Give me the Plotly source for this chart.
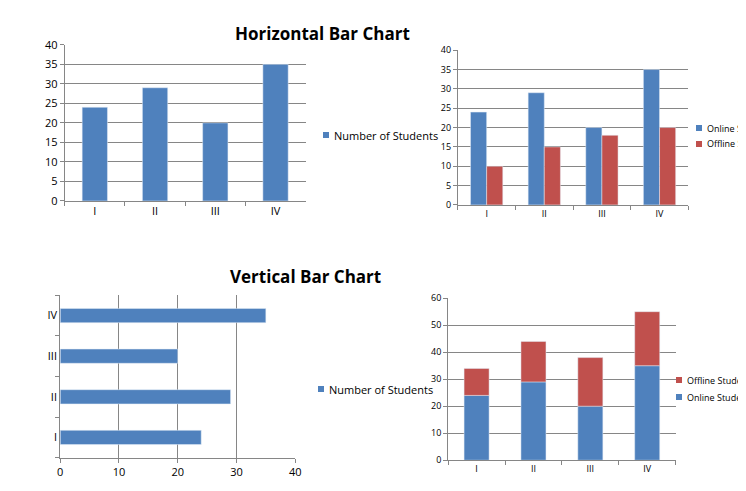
import plotly.graph_objects as go

categories = ['I', 'II', 'III', 'IV']
online = [24, 29, 20, 35]
offline = [10, 15, 18, 20]

BLUE = '#4F81BD'
RED = '#C0504D'
FONT = 'Open Sans'
W, H = 746, 491

fig = go.Figure()

# top-left: "Horizontal Bar Chart" (vertical columns)
fig.add_trace(go.Bar(x=categories, y=online, name='Number of Students', marker_color=BLUE,
                     width=0.42, xaxis='x', yaxis='y'))
# top-right: grouped
fig.add_trace(go.Bar(x=categories, y=online, name='Online Students', marker_color=BLUE,
                     xaxis='x2', yaxis='y2', offsetgroup='a'))
fig.add_trace(go.Bar(x=categories, y=offline, name='Offline Students', marker_color=RED,
                     xaxis='x2', yaxis='y2', offsetgroup='b'))
# bottom-left: "Vertical Bar Chart" (horizontal bars)
fig.add_trace(go.Bar(y=categories, x=online, orientation='h', name='Number of Students',
                     marker_color=BLUE, width=0.35, xaxis='x3', yaxis='y3'))
# bottom-right: stacked
fig.add_trace(go.Bar(x=categories, y=online, name='Online Students', marker_color=BLUE,
                     width=0.44, xaxis='x4', yaxis='y4', offsetgroup='s'))
fig.add_trace(go.Bar(x=categories, y=offline, name='Offline Students', marker_color=RED,
                     width=0.44, xaxis='x4', yaxis='y4', offsetgroup='s', base=online))
fig.update_traces(showlegend=False)

cat_ax = dict(type='category', showgrid=False, showline=True, linecolor='#868686',
              ticks='outside', tickson='boundaries', ticklen=4, tickcolor='#868686')
val_ax = dict(showgrid=True, gridcolor='#868686', showline=True, linecolor='#868686',
              ticks='outside', ticklen=4, tickcolor='#868686', zeroline=False)

# legends drawn by hand: (left px, centre px, label, colour, font size)
legend_items = [
    (315, 127, 'Number of Students', BLUE, 11),
    (688, 120, 'Online Students', BLUE, 9),
    (688, 136, 'Offline Students', RED, 9),
    (310, 381, 'Number of Students', BLUE, 11),
    (668, 372, 'Offline Students', RED, 9),
    (668, 389, 'Online Students', BLUE, 9),
]
shapes, annotations = [], []
for lx, cy, label, color, size in legend_items:
    shapes.append(dict(type='rect', xref='paper', yref='paper', x0=lx / W, x1=(lx + 6) / W,
                       y0=1 - (cy + 3) / H, y1=1 - (cy - 3) / H, fillcolor=color, line_width=0))
    annotations.append(dict(text=label, x=(lx + 9) / W, y=1 - cy / H, xref='paper', yref='paper',
                            xanchor='left', yanchor='middle', showarrow=False,
                            font=dict(size=size)))

annotations += [
    dict(text='<b>Horizontal Bar Chart</b>', x=225 / W, y=1 - 12 / H, xref='paper',
         yref='paper', showarrow=False, font=dict(size=17)),
    dict(text='<b>Vertical Bar Chart</b>', x=220 / W, y=1 - 268 / H, xref='paper',
         yref='paper', showarrow=False, font=dict(size=17)),
]

fig.update_layout(
    width=W, height=H, margin=dict(l=0, r=0, t=0, b=0, autoexpand=False),
    plot_bgcolor='white', paper_bgcolor='white', showlegend=False,
    font=dict(family=FONT, size=11, color='#000'),
    barmode='group', bargap=0.44, bargroupgap=0,
    xaxis=dict(cat_ax, domain=[0.076, 0.399], anchor='y', automargin=False),
    yaxis=dict(val_ax, domain=[0.607, 0.925], anchor='x', range=[0, 40], dtick=5, automargin=False),
    xaxis2=dict(cat_ax, domain=[0.603, 0.912], anchor='y2', tickfont=dict(size=9), automargin=False),
    yaxis2=dict(val_ax, domain=[0.599, 0.914], anchor='x2', range=[0, 40], dtick=5,
                tickfont=dict(size=9), automargin=False),
    xaxis3=dict(val_ax, domain=[0.070, 0.385], anchor='y3', range=[0, 40], dtick=10, automargin=False),
    yaxis3=dict(cat_ax, domain=[0.084, 0.415], anchor='x3', automargin=False),
    xaxis4=dict(cat_ax, domain=[0.590, 0.895], anchor='y4', tickfont=dict(size=9), automargin=False),
    yaxis4=dict(val_ax, domain=[0.079, 0.409], anchor='x4', range=[0, 60], dtick=10,
                tickfont=dict(size=9), automargin=False),
    shapes=shapes,
    annotations=annotations,
)

fig.write_html('out.html')
